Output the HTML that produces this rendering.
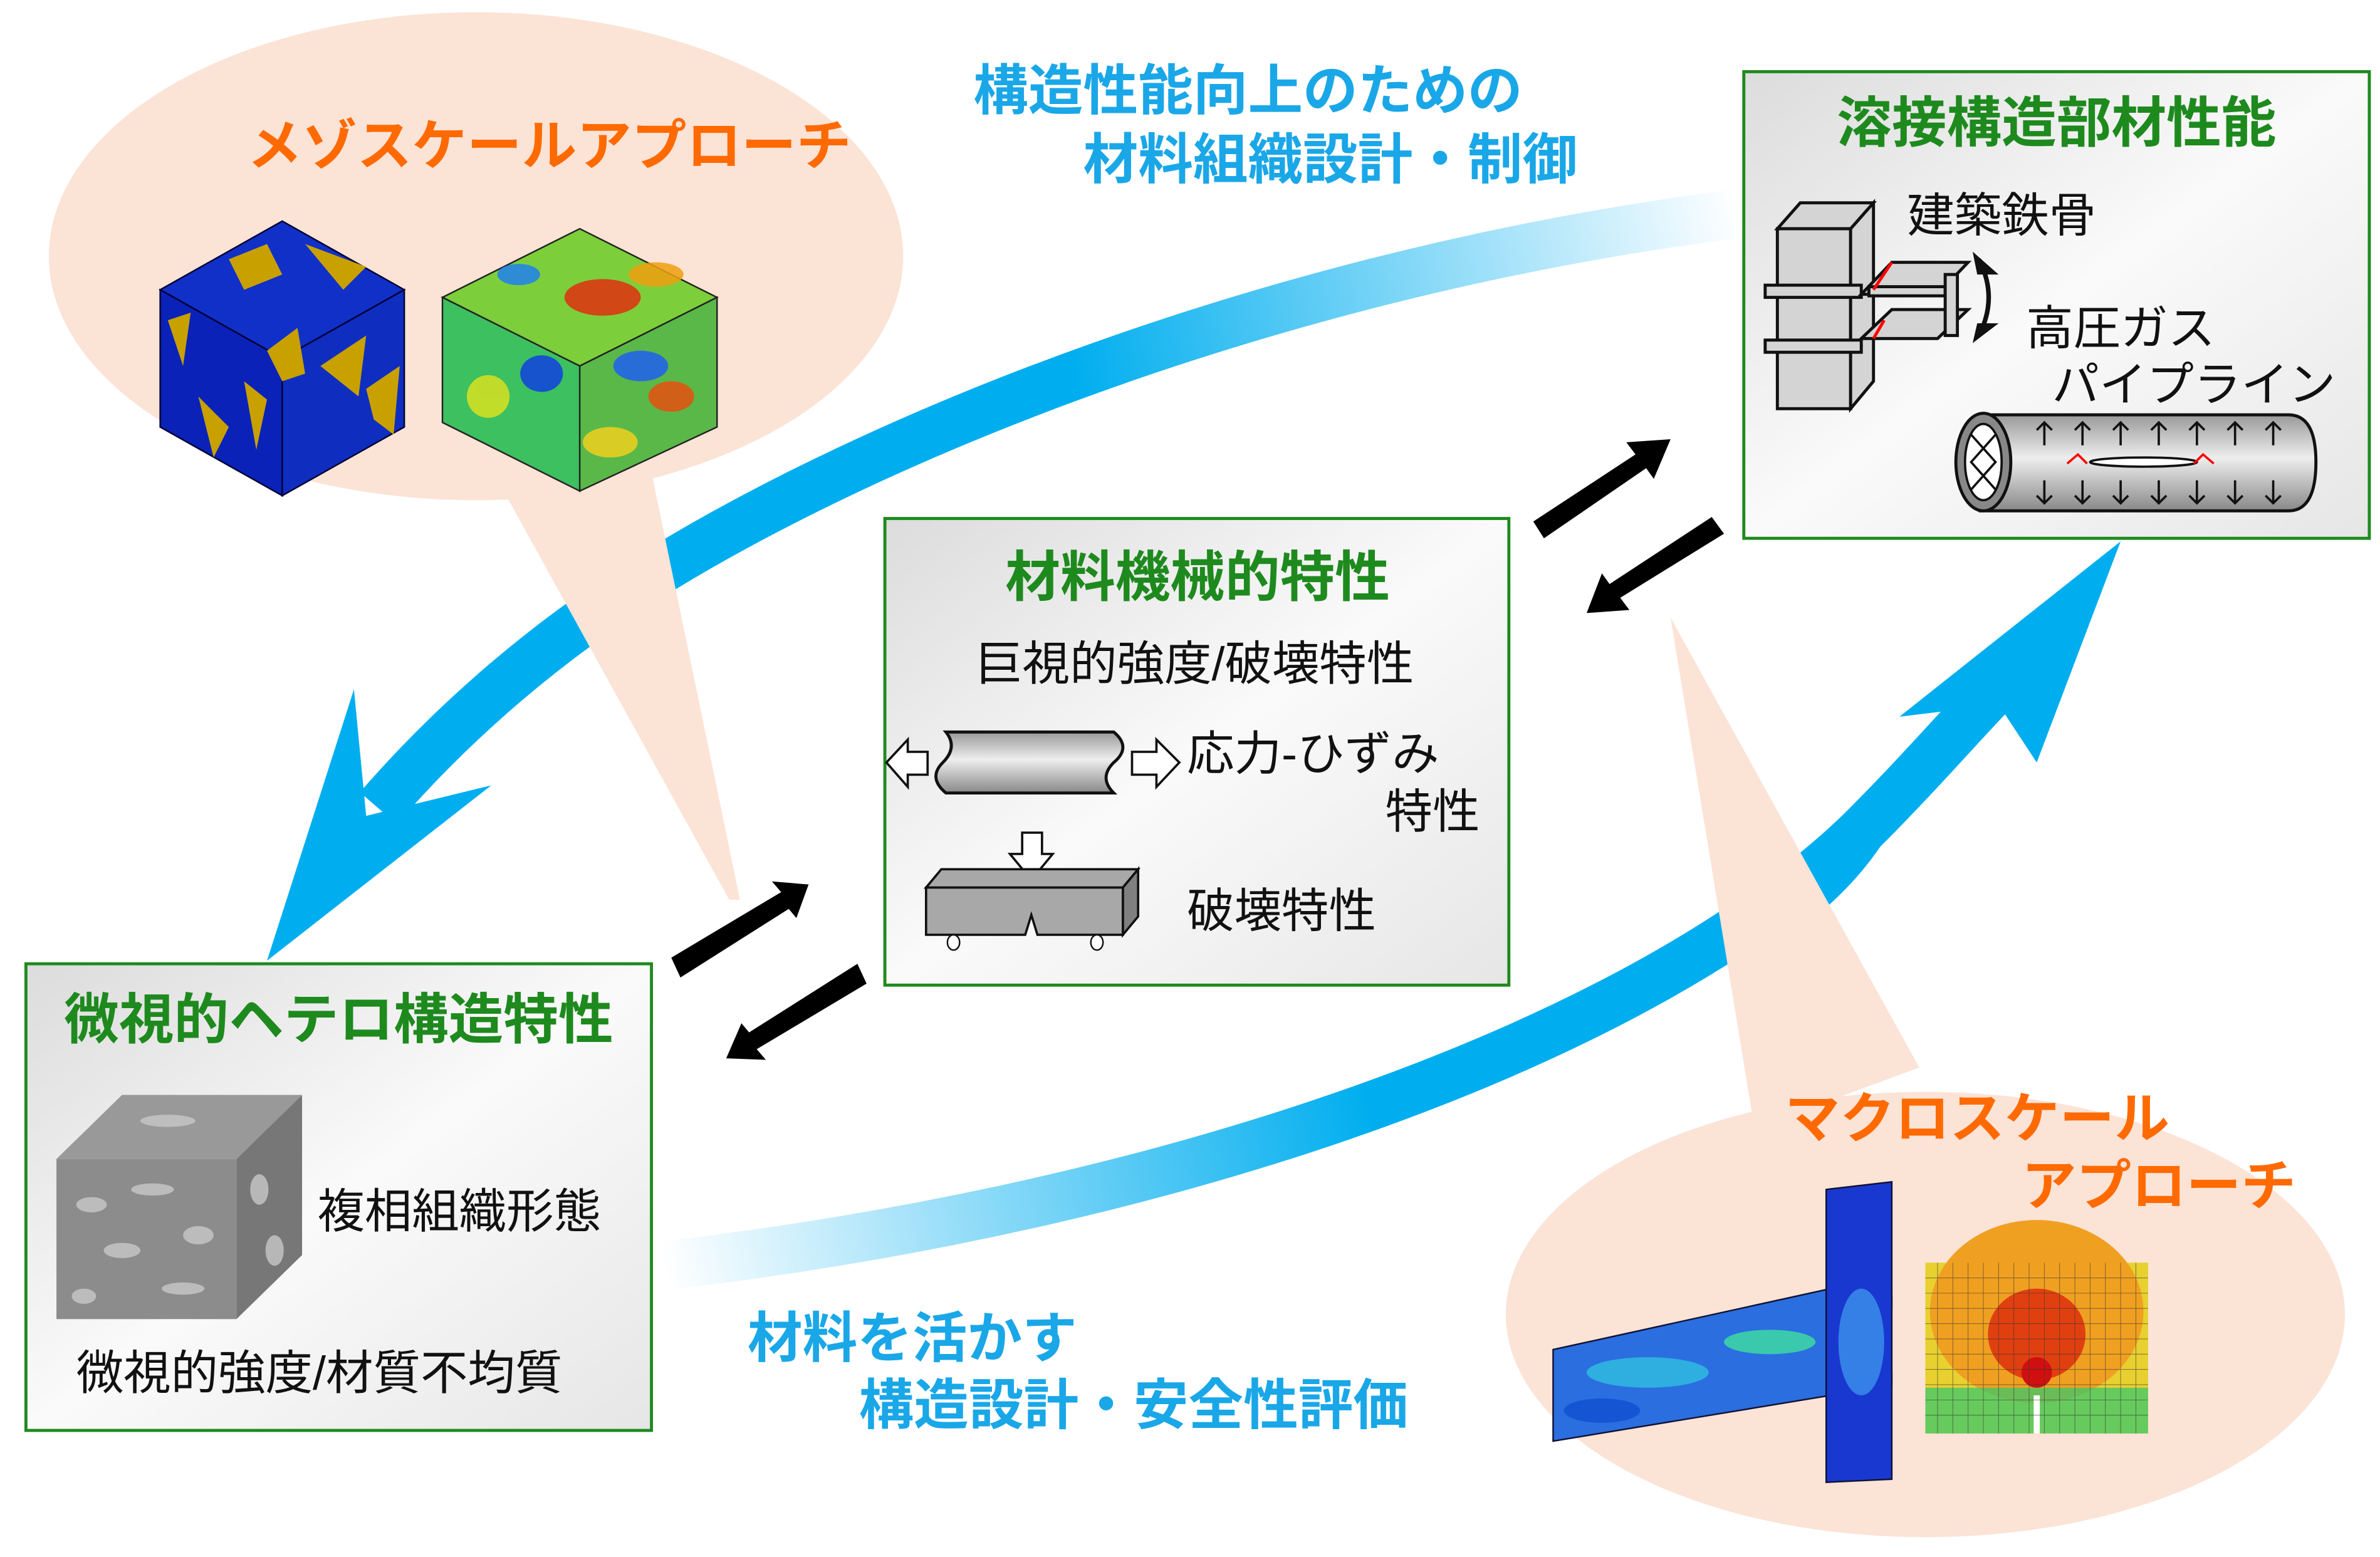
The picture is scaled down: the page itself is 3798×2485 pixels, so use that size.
<!DOCTYPE html>
<html><head><meta charset="utf-8"><style>html,body{margin:0;padding:0;background:#fff}svg{display:block}text{font-family:"Liberation Sans","Noto Sans CJK JP",sans-serif}</style></head><body>
<svg width="3798" height="2485" viewBox="0 0 1560 1021" preserveAspectRatio="none" xmlns="http://www.w3.org/2000/svg">
<defs>
<linearGradient id="box" x1="0" y1="0" x2="1" y2="1"><stop offset="0" stop-color="#dcdcdc"/><stop offset="0.5" stop-color="#fafafa"/><stop offset="1" stop-color="#e6e6e6"/></linearGradient>
<linearGradient id="ga" gradientUnits="userSpaceOnUse" x1="1140" y1="140" x2="700" y2="230"><stop offset="0" stop-color="#00aeef" stop-opacity="0"/><stop offset="1" stop-color="#00aeef"/></linearGradient>
<linearGradient id="gb" gradientUnits="userSpaceOnUse" x1="435" y1="830" x2="900" y2="740"><stop offset="0" stop-color="#00aeef" stop-opacity="0"/><stop offset="1" stop-color="#00aeef"/></linearGradient>
<linearGradient id="cyl" x1="0" y1="0" x2="0" y2="1"><stop offset="0" stop-color="#999"/><stop offset="0.45" stop-color="#eee"/><stop offset="1" stop-color="#888"/></linearGradient>
</defs>
<path d="M1140,140 C820,180 540,300 400,395" fill="none" stroke="url(#ga)" stroke-width="32"/>
<path d="M420,382 C360,420 300,470 248,530" fill="none" stroke="#00aeef" stroke-width="32"/>
<polygon points="232,452 240,535 322,515 175,630" fill="#00aeef"/>
<path d="M435,830 C780,790 1080,680 1220,545 C1260,505 1290,470 1305,455" fill="none" stroke="url(#gb)" stroke-width="32"/>
<path d="M1130,622 C1170,600 1200,575 1220,545 C1260,505 1290,470 1305,455" fill="none" stroke="#00aeef" stroke-width="32"/>
<polygon points="1390,355 1335,500 1310,462 1245,470" fill="#00aeef"/>
<ellipse cx="312" cy="168" rx="280" ry="160" fill="#fbe3d6"/>
<polygon points="318,300 425,300 485,590 478,590" fill="#fbe3d6"/>
<ellipse cx="1262" cy="862" rx="275" ry="146" fill="#fbe3d6"/>
<polygon points="1095,405 1150,740 1258,700" fill="#fbe3d6"/>
<text x="360" y="108" font-size="36" font-weight="bold" fill="#ff6a00" text-anchor="middle">メゾスケールアプローチ</text>
<polygon points="105,190 185,145 265,190 185,235" fill="#1030c8" stroke="#003" stroke-width="1"/>
<polygon points="105,190 185,235 185,325 105,280" fill="#0a22b8" stroke="#003"/>
<polygon points="185,235 265,190 265,280 185,325" fill="#0f2ec0" stroke="#003"/>
<g fill="#c8a000"><polygon points="150,170 175,160 185,180 160,190"/><polygon points="200,160 240,175 225,190"/><polygon points="175,230 195,215 200,245 185,250"/><polygon points="160,250 175,262 168,295"/><polygon points="210,240 240,220 235,260"/><polygon points="110,210 125,205 120,240"/><polygon points="240,255 262,240 258,285 245,275"/><polygon points="130,260 150,280 140,300"/></g>
<polygon points="290,195 380,150 470,195 380,240" fill="#7ccf3a" stroke="#222" stroke-width="1"/>
<polygon points="290,195 380,240 380,322 290,277" fill="#3cc060" stroke="#222"/>
<polygon points="380,240 470,195 470,280 380,322" fill="#5ab848" stroke="#222"/>
<g opacity="0.85"><ellipse cx="395" cy="195" rx="25" ry="12" fill="#e03010"/><ellipse cx="430" cy="180" rx="18" ry="8" fill="#f0a010"/><ellipse cx="355" cy="245" rx="14" ry="12" fill="#1040e0"/><ellipse cx="420" cy="240" rx="18" ry="10" fill="#2060f0"/><ellipse cx="320" cy="260" rx="14" ry="14" fill="#d8e020"/><ellipse cx="440" cy="260" rx="15" ry="10" fill="#e85010"/><ellipse cx="400" cy="290" rx="18" ry="10" fill="#f0d020"/><ellipse cx="340" cy="180" rx="14" ry="7" fill="#2080f0"/></g>
<text x="638" y="72" font-size="36" font-weight="bold" fill="#1aa7e8">構造性能向上のための</text>
<text x="710" y="117" font-size="36" font-weight="bold" fill="#1aa7e8">材料組織設計・制御</text>
<text x="490" y="890" font-size="36" font-weight="bold" fill="#1aa7e8">材料を活かす</text>
<text x="563" y="934" font-size="36" font-weight="bold" fill="#1aa7e8">構造設計・安全性評価</text>
<rect x="1143" y="47" width="410" height="306" fill="url(#box)" stroke="#1e8a1e" stroke-width="2"/>
<text x="1348" y="93" font-size="36" font-weight="bold" fill="#1e8a1e" text-anchor="middle">溶接構造部材性能</text>
<text x="1250" y="152" font-size="31" fill="#111">建築鉄骨</text>
<text x="1328" y="226" font-size="31" fill="#111">高圧ガス</text>
<text x="1345" y="263" font-size="31" fill="#111">パイプライン</text>
<g stroke="#111" stroke-width="2" fill="#d4d4d4">
<polygon points="1165,150 1180,133 1228,133 1213,150"/>
<rect x="1165" y="150" width="48" height="118"/>
<polygon points="1213,150 1228,133 1228,250 1213,268"/>
<rect x="1157" y="187" width="63" height="8"/><rect x="1157" y="223" width="63" height="8"/>
<polygon points="1220,193 1270,193 1290,172 1240,172"/>
<rect x="1225" y="188" width="50" height="6"/>
<polygon points="1220,222 1270,222 1290,203 1240,203"/>
<rect x="1275" y="180" width="8" height="40"/>
</g>
<path d="M1228,190 L1240,172 M1228,222 L1235,210" stroke="red" stroke-width="2"/>
<path d="M1297,170 Q1310,195 1297,220" stroke="#111" stroke-width="3" fill="none"/>
<polygon points="1293,165 1310,180 1296,180" fill="#111"/><polygon points="1293,225 1310,212 1296,212" fill="#111"/>
<path d="M1298,272 L1500,272 Q1518,272 1518,303 Q1518,335 1500,335 L1298,335 Z" fill="url(#cyl)" stroke="#111" stroke-width="2"/>
<ellipse cx="1300" cy="303" rx="18" ry="32" fill="#888" stroke="#111" stroke-width="2"/>
<ellipse cx="1300" cy="303" rx="12" ry="25" fill="#fff" stroke="#111" stroke-width="1.5"/>
<path d="M1292,285 L1308,303 L1292,321 M1308,285 L1292,303 L1308,321" stroke="#111" stroke-width="1.5" fill="none"/>
<ellipse cx="1405" cy="303" rx="35" ry="3" fill="#fff" stroke="#111" stroke-width="1.5"/>
<path d="M1355,304 L1362,298 L1368,304 M1438,304 L1444,298 L1451,304" stroke="red" stroke-width="1.5" fill="none"/>
<g stroke="#111" stroke-width="1.5" fill="none">
<path d="M1340,292 v-15 m-5,5 l5,-5 5,5 M1365,292 v-15 m-5,5 l5,-5 5,5 M1390,292 v-15 m-5,5 l5,-5 5,5 M1415,292 v-15 m-5,5 l5,-5 5,5 M1440,292 v-15 m-5,5 l5,-5 5,5 M1465,292 v-15 m-5,5 l5,-5 5,5 M1490,292 v-15 m-5,5 l5,-5 5,5"/>
<path d="M1340,315 v15 m-5,-5 l5,5 5,-5 M1365,315 v15 m-5,-5 l5,5 5,-5 M1390,315 v15 m-5,-5 l5,5 5,-5 M1415,315 v15 m-5,-5 l5,5 5,-5 M1440,315 v15 m-5,-5 l5,5 5,-5 M1465,315 v15 m-5,-5 l5,5 5,-5 M1490,315 v15 m-5,-5 l5,5 5,-5"/>
</g>
<rect x="580" y="340" width="409" height="306" fill="url(#box)" stroke="#1e8a1e" stroke-width="2"/>
<text x="785" y="391" font-size="36" font-weight="bold" fill="#1e8a1e" text-anchor="middle">材料機械的特性</text>
<text x="783" y="446" font-size="31" fill="#111" text-anchor="middle">巨視的強度/破壊特性</text>
<text x="778" y="505" font-size="31" fill="#111">応力-ひずみ</text>
<text x="908" y="543" font-size="31" fill="#111">特性</text>
<text x="778" y="608" font-size="31" fill="#111">破壊特性</text>
<path d="M620,480 L730,480 Q742,490 730,500 Q720,510 730,520 L620,520 Q608,510 618,500 Q628,490 620,480 Z" fill="url(#cyl)" stroke="#111" stroke-width="2"/>
<polygon points="581,500 595,485 595,493 608,493 608,508 595,508 595,516" fill="#fff" stroke="#111" stroke-width="1.5"/>
<polygon points="773,500 758,485 758,493 742,493 742,508 758,508 758,516" fill="#fff" stroke="#111" stroke-width="1.5"/>
<polygon points="670,546 683,546 683,560 690,560 676,577 662,560 670,560" fill="#fff" stroke="#111" stroke-width="1.5"/>
<polygon points="607,582 617,570 746,570 736,582" fill="#a8a8a8" stroke="#111" stroke-width="1.5"/>
<polygon points="736,582 746,570 746,601 736,613" fill="#808080" stroke="#111" stroke-width="1.5"/>
<polygon points="607,582 736,582 736,613 680,613 676,600 672,613 607,613" fill="#a8a8a8" stroke="#111" stroke-width="1.5"/>
<ellipse cx="625" cy="618" rx="4" ry="5" fill="#fff" stroke="#111"/><ellipse cx="719" cy="618" rx="4" ry="5" fill="#fff" stroke="#111"/>
<rect x="17" y="632" width="410" height="306" fill="url(#box)" stroke="#1e8a1e" stroke-width="2"/>
<text x="222" y="681" font-size="36" font-weight="bold" fill="#1e8a1e" text-anchor="middle">微視的ヘテロ構造特性</text>
<text x="208" y="805" font-size="31" fill="#111">複相組織形態</text>
<text x="50" y="911" font-size="31" fill="#111">微視的強度/材質不均質</text>
<polygon points="37,760 80,718 198,718 155,760" fill="#999"/>
<rect x="37" y="760" width="118" height="105" fill="#8c8c8c"/>
<polygon points="155,760 198,718 198,823 155,865" fill="#777"/>
<g fill="#c8c8c8" opacity="0.8"><ellipse cx="60" cy="790" rx="10" ry="5"/><ellipse cx="100" cy="780" rx="14" ry="4"/><ellipse cx="80" cy="820" rx="12" ry="5"/><ellipse cx="130" cy="810" rx="10" ry="6"/><ellipse cx="120" cy="845" rx="14" ry="4"/><ellipse cx="55" cy="850" rx="8" ry="5"/><ellipse cx="110" cy="735" rx="18" ry="4"/><ellipse cx="170" cy="780" rx="6" ry="10"/><ellipse cx="180" cy="820" rx="6" ry="10"/></g>
<text x="1170" y="746" font-size="36" font-weight="bold" fill="#ff6a00">マクロスケール</text>
<text x="1325" y="790" font-size="36" font-weight="bold" fill="#ff6a00">アプローチ</text>
<polygon points="1018,885 1200,845 1200,915 1018,945" fill="#2a6ee0" stroke="#113" stroke-width="1"/>
<g opacity="0.8"><ellipse cx="1080" cy="900" rx="40" ry="10" fill="#30c0e0"/><ellipse cx="1160" cy="880" rx="30" ry="8" fill="#40e0a0"/><ellipse cx="1050" cy="925" rx="25" ry="8" fill="#1050d0"/></g>
<rect x="1200" y="850" width="40" height="8" fill="#4090e0" stroke="#113"/><rect x="1200" y="900" width="40" height="8" fill="#4090e0" stroke="#113"/>
<polygon points="1197,780 1240,775 1240,970 1197,972" fill="#1838d0" stroke="#113" stroke-width="1"/>
<ellipse cx="1220" cy="880" rx="15" ry="35" fill="#40a0f0" opacity="0.7"/>
<rect x="1262" y="828" width="146" height="112" fill="#e8d030"/>
<ellipse cx="1335" cy="860" rx="70" ry="60" fill="#f0a020"/>
<ellipse cx="1335" cy="875" rx="32" ry="30" fill="#e04010"/>
<ellipse cx="1335" cy="900" rx="10" ry="10" fill="#d01010"/>
<rect x="1262" y="910" width="146" height="30" fill="#30c870" opacity="0.7"/>
<rect x="1333" y="915" width="4" height="25" fill="#fff"/>
<g stroke="#333" stroke-width="0.4" opacity="0.6"><path d="M1262,838H1408M1262,848H1408M1262,858H1408M1262,868H1408M1262,878H1408M1262,888H1408M1262,898H1408M1262,908H1408M1262,918H1408M1262,928H1408M1270,828V940M1280,828V940M1290,828V940M1300,828V940M1310,828V940M1320,828V940M1330,828V940M1340,828V940M1350,828V940M1360,828V940M1370,828V940M1380,828V940M1390,828V940M1400,828V940"/></g>
<g fill="#000">
<polygon points="440,628 512,585 506,578 530,580 522,602 517,596 446,641"/>
<polygon points="568,645 496,688 502,695 476,694 486,671 491,677 562,632"/>
<polygon points="1005,342 1072,298 1066,290 1095,288 1084,314 1079,307 1012,353"/>
<polygon points="1130,350 1062,392 1068,400 1040,402 1050,376 1055,383 1122,339"/>
</g>
</svg>
</body></html>
